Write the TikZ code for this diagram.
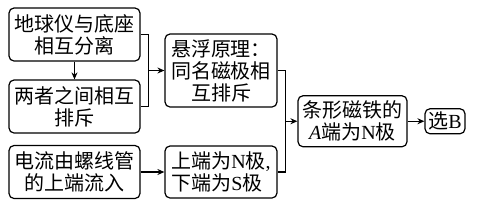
\documentclass[tikz,border=0pt]{standalone}
\usepackage{fontspec}
\newfontfamily\cjk{Noto Sans CJK SC}
\newfontfamily\lat{Liberation Serif}
\usetikzlibrary{arrows.meta, positioning, calc}

\begin{document}
\begin{tikzpicture}[
			x=0.5pt, y=-0.5pt,
			box/.style={rectangle, draw, rounded corners=2.5pt, line width=0.6pt, inner sep=0pt, align=center, font=\cjk\fontsize{10}{11}\selectfont},
			wide/.style={box, minimum width=65.5pt, minimum height=26.5pt},
			mid/.style={box, minimum width=56pt},
			arr/.style={-{Stealth[length=3.5pt, width=3pt]}, line width=0.6pt},
			lnk/.style={line width=0.6pt}
			]
			\useasboundingbox (0,0) rectangle (478,205);
			% left column
			\node[wide] (apart) at (74.5,34.5) {地球仪与底座\\相互分离};
			\node[wide] (repel) at (74.5,106.5) {两者之间相互\\排斥};
			\node[wide] (current) at (74.5,172) {电流由螺线管\\的上端流入};
			% middle column
			\node[mid, minimum height=36.5pt] (levit) at (221,70.5) {悬浮原理：\\同名磁极相\\互排斥};
			\node[mid, minimum height=26pt, align=left] (poles) at (221,172) {上端为{\lat N}极{\lat ,}\\下端为{\lat S}极};
			% result
			\node[box, minimum width=54.5pt, minimum height=25.5pt] (magnet) at (352.5,121.25) {条形磁铁的\\{\lat\itshape A}端为{\lat N}极};
			\node[box, minimum width=20pt, minimum height=12.5pt] (answer) at (445,121.25) {选{\lat B}};
			% connectors
			\draw[arr] (apart) -- (repel);
			\draw[lnk] (apart.east) -- ++(8,0) |- (repel.east);
			\coordinate (j1) at ($(apart.east)!0.5!(repel.east)+(8,0)$);
			\draw[arr] (j1) -- (levit);
			\draw[arr] (current) -- (poles);
			\draw[lnk] (levit.east) -- ++(8,0) |- (poles.east);
			\coordinate (j2) at ($(levit.east)!0.5!(poles.east)+(8,0)$);
			\draw[arr] (j2) -- (magnet);
			\draw[arr] (magnet) -- (answer);
		\end{tikzpicture}
\end{document}
